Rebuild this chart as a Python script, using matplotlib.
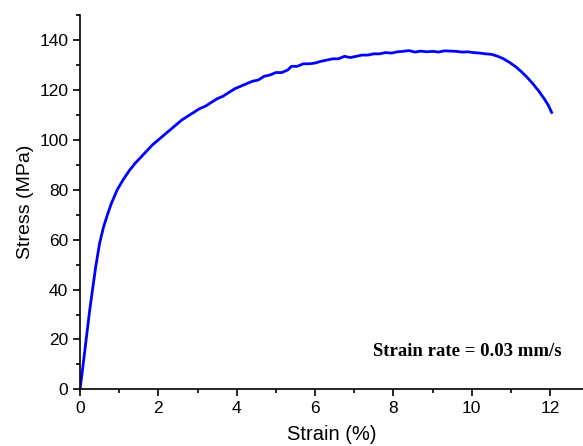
import matplotlib.pyplot as plt
from matplotlib.ticker import MultipleLocator

# Strain (%) and stress (MPa)
strain = [0.0, 0.05, 0.10, 0.15, 0.20, 0.25, 0.32, 0.40, 0.50, 0.60, 0.70,
          0.80, 0.95, 1.10, 1.25, 1.40, 1.55, 1.70, 1.85, 2.00, 2.15, 2.30,
          2.45, 2.60, 2.75, 2.90, 3.05, 3.20, 3.35, 3.50, 3.65, 3.80, 3.95,
          4.10, 4.25, 4.40, 4.55, 4.70, 4.85, 5.00, 5.15, 5.30, 5.40, 5.55,
          5.70, 5.85, 6.00, 6.15, 6.30, 6.45, 6.60, 6.75, 6.90, 7.05, 7.20,
          7.35, 7.50, 7.65, 7.80, 7.95, 8.10, 8.25, 8.40, 8.55, 8.70, 8.85,
          9.00, 9.15, 9.30, 9.45, 9.60, 9.75, 9.90, 10.05, 10.20, 10.35,
          10.50, 10.65, 10.80, 10.95, 11.10, 11.25, 11.40, 11.55, 11.70,
          11.85, 11.95, 12.04]
stress = [0.0, 6.0, 12.5, 19.0, 25.5, 32.0, 40.0, 49.0, 58.5, 65.0, 70.0,
          74.5, 80.0, 84.0, 87.5, 90.5, 93.0, 95.5, 98.0, 100.0, 102.0, 104.0,
          106.0, 108.0, 109.5, 111.0, 112.5, 113.5, 115.0, 116.5, 117.5, 119.0,
          120.5, 121.5, 122.5, 123.5, 124.0, 125.5, 126.0, 127.0, 127.0, 128.0,
          129.5, 129.5, 130.5, 130.5, 130.8, 131.5, 132.0, 132.5, 132.5, 133.5,
          133.0, 133.5, 134.0, 134.0, 134.5, 134.5, 135.0, 134.8, 135.3, 135.5,
          135.8, 135.2, 135.6, 135.3, 135.5, 135.2, 135.7, 135.6, 135.5, 135.2,
          135.3, 135.0, 134.8, 134.5, 134.3, 133.6, 132.6, 131.2, 129.6, 127.6,
          125.3, 122.7, 119.8, 116.5, 114.0, 111.0]

x_ticks = [0, 2, 4, 6, 8, 10, 12]
y_ticks = [0, 20, 40, 60, 80, 100, 120, 140]

plt.rcParams['font.family'] = ['Liberation Sans', 'DejaVu Sans']

fig = plt.figure(figsize=(5.83, 4.46), dpi=100)
ax = fig.add_axes([0.1372, 0.127, 0.8628, 0.839])

ax.plot(strain, stress, color='#0000ff', linewidth=2.0)

ax.set_xlim(0, 12.84)
ax.set_ylim(0, 150)
ax.set_xticks(x_ticks)
ax.set_yticks(y_ticks)
ax.xaxis.set_minor_locator(MultipleLocator(1))
ax.yaxis.set_minor_locator(MultipleLocator(10))

ax.spines['top'].set_visible(False)
ax.spines['right'].set_visible(False)
for s in ['left', 'bottom']:
    ax.spines[s].set_linewidth(1.2)
ax.tick_params(which='major', direction='out', length=5, width=1.2, labelsize=12.5)
ax.tick_params(which='minor', direction='out', length=3, width=1.2)

ax.set_xlabel("Strain (%)", fontsize=14.5, labelpad=6.5)
ax.set_ylabel("Stress (MPa)", fontsize=14, labelpad=4)

ax.text(9.88, 15.3, "Strain rate = 0.03 mm/s", fontsize=13.5,
        fontfamily='Liberation Serif', fontweight='bold',
        ha='center', va='center')

fig.savefig("out.png", dpi=100)
